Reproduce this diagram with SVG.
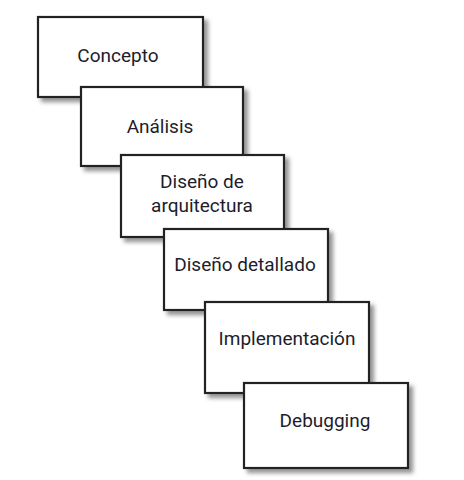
<svg xmlns="http://www.w3.org/2000/svg" width="464" height="480" viewBox="0 0 464 480">
<defs>
<filter id="sh" x="-10%" y="-10%" width="130%" height="130%">
<feDropShadow dx="4" dy="4" stdDeviation="2" flood-color="#777" flood-opacity="0.8"/>
</filter>
</defs>
<style>
.box{fill:#fff;stroke:#222;stroke-width:2.2;filter:url(#sh)}
.lbl{font-family:"Liberation Sans Narrow","Roboto","Liberation Sans",sans-serif;font-size:19px;fill:#1d1d2b;text-anchor:middle}
</style>
<rect width="464" height="480" fill="#fff"/>
<g id="concepto"><rect class="box" x="38" y="17" width="165" height="80"/><text class="lbl" x="118" y="62">Concepto</text></g>
<g id="analisis"><rect class="box" x="81" y="87" width="162" height="79"/><text class="lbl" x="160" y="133">Análisis</text></g>
<g id="arquitectura"><rect class="box" x="121" y="155" width="163" height="82"/><text class="lbl" x="202" y="188">Diseño de</text><text class="lbl" x="202" y="212">arquitectura</text></g>
<g id="detallado"><rect class="box" x="164" y="229" width="164" height="81"/><text class="lbl" x="245" y="271">Diseño detallado</text></g>
<g id="implementacion"><rect class="box" x="205" y="302" width="164" height="91"/><text class="lbl" x="287" y="345">Implementación</text></g>
<g id="debugging"><rect class="box" x="244" y="383" width="164" height="85"/><text class="lbl" x="325" y="427">Debugging</text></g>
<g id="connectors"></g>
</svg>
